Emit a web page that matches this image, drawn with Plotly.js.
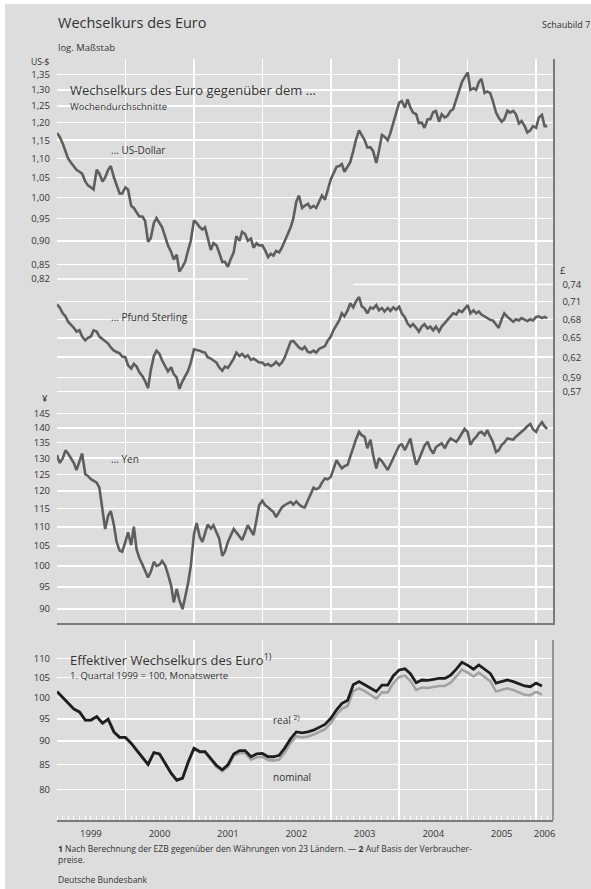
<!DOCTYPE html>
<html><head><meta charset="utf-8">
<script src="https://cdn.plot.ly/plotly-3.0.1.min.js"></script>
<style>html,body{margin:0;padding:0;background:#fff;} #chart{position:absolute;left:5px;top:4px;width:586px;height:885px;}</style>
</head><body><div id="chart"></div>
<script>
// ---- DATA (semi-monthly: 1st and 15th of each month, Jan 1999 - Mar 2006) ----
const usd1999 = [1.17,1.16, 1.14,1.12, 1.10,1.09, 1.08,1.07, 1.065,1.06, 1.04,1.03, 1.025,1.02, 1.07,1.06, 1.04,1.05, 1.07,1.08, 1.05,1.03, 1.01,1.01];
const usd2000 = [1.025,1.02, 0.98,0.975, 0.963,0.955, 0.955,0.945, 0.898,0.905, 0.94,0.951, 0.94,0.93, 0.908,0.89, 0.876,0.86, 0.87,0.835, 0.845,0.855, 0.88,0.90];
const usd2001 = [0.946,0.94, 0.93,0.925, 0.93,0.905, 0.88,0.895, 0.89,0.875, 0.855,0.855, 0.845,0.86, 0.875,0.91, 0.90,0.92, 0.915,0.90, 0.905,0.885, 0.895,0.89];
const usd2002 = [0.89,0.88, 0.865,0.872, 0.868,0.878, 0.875,0.885, 0.90,0.91, 0.93,0.95, 0.99,1.005, 0.975,0.98, 0.985,0.975, 0.98,0.975, 0.99,1.005, 0.995,1.02];
const usd2003 = [1.045,1.06, 1.078,1.08, 1.085,1.065, 1.08,1.09, 1.12,1.15, 1.178,1.165, 1.15,1.13, 1.13,1.12, 1.088,1.12, 1.165,1.16, 1.15,1.17, 1.20,1.225];
const usd2004 = [1.26,1.265, 1.245,1.27, 1.245,1.23, 1.225,1.199, 1.20,1.185, 1.21,1.21, 1.232,1.235, 1.203,1.225, 1.215,1.22, 1.235,1.24, 1.27,1.302, 1.325,1.34];
const usd2005 = [1.356,1.30, 1.305,1.30, 1.325,1.335, 1.29,1.295, 1.29,1.265, 1.23,1.215, 1.203,1.21, 1.236,1.23, 1.235,1.225, 1.198,1.205, 1.19,1.172, 1.178,1.19];
const usd2006 = [1.185,1.215, 1.223,1.19, 1.19];

const gbp1999 = [0.705,0.70, 0.69,0.685, 0.676,0.672, 0.666,0.66, 0.662,0.652, 0.646,0.65, 0.652,0.662, 0.66,0.652, 0.648,0.645, 0.641,0.635, 0.63,0.628, 0.626,0.621];
const gbp2000 = [0.62,0.608, 0.603,0.61, 0.606,0.598, 0.592,0.585, 0.575,0.60, 0.622,0.63, 0.625,0.615, 0.605,0.599, 0.605,0.595, 0.59,0.574, 0.585,0.592, 0.60,0.612];
const gbp2001 = [0.632,0.631, 0.63,0.628, 0.627,0.62, 0.618,0.615, 0.612,0.605, 0.60,0.606, 0.604,0.61, 0.618,0.627, 0.622,0.625, 0.62,0.623, 0.616,0.618, 0.614,0.612];
const gbp2002 = [0.612,0.608, 0.61,0.607, 0.609,0.613, 0.608,0.612, 0.62,0.63, 0.644,0.645, 0.64,0.635, 0.632,0.636, 0.628,0.627, 0.63,0.627, 0.633,0.635, 0.637,0.645];
const gbp2003 = [0.652,0.662, 0.672,0.678, 0.69,0.685, 0.695,0.707, 0.70,0.71, 0.718,0.702, 0.698,0.69, 0.70,0.698, 0.704,0.695, 0.699,0.693, 0.699,0.694, 0.70,0.696];
const gbp2004 = [0.701,0.69, 0.683,0.673, 0.668,0.672, 0.666,0.66, 0.668,0.672, 0.665,0.668, 0.662,0.668, 0.66,0.668, 0.674,0.679, 0.684,0.69, 0.688,0.695, 0.692,0.697];
const gbp2005 = [0.704,0.69, 0.695,0.69, 0.693,0.688, 0.685,0.682, 0.679,0.678, 0.672,0.666, 0.68,0.69, 0.684,0.681, 0.676,0.68, 0.678,0.682, 0.679,0.677, 0.68,0.678];
const gbp2006 = [0.684,0.685, 0.682,0.684, 0.682];

const jpy1999 = [131,128.5, 130,132.5, 131.5,130, 128.5,126.3, 129,131.5, 125,124.5, 123.5,123, 122.5,121, 115,109.4, 113,114.3, 110.4,106, 103.8,103.5];
const jpy2000 = [106,108.5, 105.2,110, 104,102, 100.3,99, 97.2,98.5, 101,100, 100.3,101.2, 100,98, 95.3,91.5, 94.5,92, 90,92.7, 96,100];
const jpy2001 = [108,111, 107.3,106, 108.5,110.6, 109.5,110.4, 108.5,107, 102.5,103.5, 106,107.5, 109.4,108.5, 107.4,106.5, 108.5,110.4, 109,107.8, 112,116];
const jpy2002 = [117.2,116, 115.3,114.5, 114,112.6, 114,115.3, 116,116.5, 116.9,116.1, 117,116.2, 115.5,115.3, 117.5,119, 121,120.5, 121,122.5, 123.7,123.5];
const jpy2003 = [124.2,126.5, 129.4,128, 126.8,127.5, 127.9,130.5, 133.7,136, 138.6,137.5, 136.9,133.2, 136,131, 126.8,130, 129,127.9, 126.3,128, 130,132];
const jpy2004 = [134,134.5, 132.6,134.5, 136.4,132, 128,129.5, 132,134, 135.3,133, 131.5,133.5, 134.3,134.8, 133.2,135, 136.4,135.8, 135.3,136.5, 138,139.6];
const jpy2005 = [138.5,134.3, 136,136.9, 138.2,138.6, 137.5,139.2, 137,135.3, 132,132.5, 134.3,135, 136.4,136.2, 136,137, 137.8,138.5, 139.6,140.5, 141.3,139.5];
const jpy2006 = [138.6,140.5, 141.9,140.5, 139.6];

// Effective exchange rate, monthly (Jan 1999 - Feb 2006)
const real1999 = [101.5,100,98.5,97.3,96.6,94.7,94.7,95.5,94,94.9,92,90.8];
const real2000 = [90.8,89.5,88,86.5,85,87.5,87.2,85.2,83.2,81.8,82.2,85.5];
const real2001 = [88.4,87.7,87.7,86.2,84.8,83.9,84.9,87.2,87.9,87.9,86.6,87.2];
const real2002 = [87.3,86.6,86.6,86.9,88.5,90.5,92,91.8,92,92.4,93,93.7];
const real2003 = [95.1,97.1,98.6,99.4,103.2,104,103.2,102.3,101.5,103.1,103.1,105.5];
const real2004 = [107,107.3,106,103.7,104.4,104.3,104.5,104.8,104.8,105.6,107.2,109];
const real2005 = [108.2,107.2,108.3,107.2,106.1,103.6,104,104.4,104,103.5,102.9,102.7];
const real2006 = [103.6,102.9];

const nom1999 = [101.4,99.9,98.4,97.2,96.5,94.6,94.6,95.4,93.9,94.8,91.9,90.7];
const nom2000 = [90.7,89.4,87.9,86.4,84.9,87.4,87.1,85.1,83.1,81.7,82.1,85.3];
const nom2001 = [88.2,87.5,87.5,86,84.5,83.6,84.5,86.8,87.4,87.4,86,86.5];
const nom2002 = [86.6,85.9,85.8,86,87.5,89.6,91,90.8,91,91.4,92,92.6];
const nom2003 = [94,96,97.3,98,101.6,102.3,101.6,100.6,99.8,101.3,101.3,103.6];
const nom2004 = [105.2,105.5,104.2,101.9,102.5,102.4,102.6,102.9,102.9,103.7,105.3,107.1];
const nom2005 = [106.3,105.3,106.3,105.2,104.1,101.5,101.9,102.3,101.9,101.4,100.7,100.6];
const nom2006 = [101.4,100.8];

// Tick labels
const usdTicks = [0.82,0.85,0.90,0.95,1.00,1.05,1.10,1.15,1.20,1.25,1.30,1.35];
const usdText  = ["0,82","0,85","0,90","0,95","1,00","1,05","1,10","1,15","1,20","1,25","1,30","1,35"];
const gbpTicks = [0.57,0.59,0.62,0.65,0.68,0.71,0.74];
const gbpText  = ["0,57","0,59","0,62","0,65","0,68","0,71","0,74"];
const jpyTicks = [90,95,100,105,110,115,120,125,130,135,140,145];
const eerTicks = [80,85,90,95,100,105,110];
const yearStarts = ["1999-01-01","2000-01-01","2001-01-01","2002-01-01","2003-01-01","2004-01-01","2005-01-01","2006-01-01"];
const yearLabelPos = ["1999-07-01","2000-07-01","2001-07-01","2002-07-01","2003-07-01","2004-07-01","2005-07-01","2006-02-15"];
const yearLabels = ["1999","2000","2001","2002","2003","2004","2005","2006"];

// ---- build series ----
const usd = [].concat(usd1999,usd2000,usd2001,usd2002,usd2003,usd2004,usd2005,usd2006);
const gbp = [].concat(gbp1999,gbp2000,gbp2001,gbp2002,gbp2003,gbp2004,gbp2005,gbp2006);
const jpy = [].concat(jpy1999,jpy2000,jpy2001,jpy2002,jpy2003,jpy2004,jpy2005,jpy2006);
const real = [].concat(real1999,real2000,real2001,real2002,real2003,real2004,real2005,real2006);
const nom = [].concat(nom1999,nom2000,nom2001,nom2002,nom2003,nom2004,nom2005,nom2006);
const pad = n => (n<10?'0':'')+n;
function semiDates(n){const o=[];let y=1999,m=1;while(o.length<n){o.push(y+'-'+pad(m)+'-01');if(o.length<n)o.push(y+'-'+pad(m)+'-15');m++;if(m>12){m=1;y++;}}return o;}
function monthDates(n){const o=[];let y=1999,m=1;while(o.length<n){o.push(y+'-'+pad(m)+'-01');m++;if(m>12){m=1;y++;}}return o;}
const semi = semiDates(usd.length);
const months = monthDates(real.length);

// ---- layout geometry (image pixels) ----
const FONT = '"Open Sans", "Noto Sans", sans-serif';
const TXT = '#333333';
const L=57, R=553, T=59, B=820, W=R-L, H=B-T;
const px = x => (x-L)/W, py = y => 1-(y-T)/H;
const XR = ['1999-01-01','2006-04-01'];
const topDom = [py(623), 1], botDom = [0, py(640)];

const lineGrey = '#5e5e5e';
const traces = [
  {x:semi, y:usd, xaxis:'x', yaxis:'y', mode:'lines', line:{color:lineGrey,width:2.6}, hoverinfo:'skip'},
  {x:semi, y:gbp, xaxis:'x', yaxis:'y2', mode:'lines', line:{color:lineGrey,width:2.6}, hoverinfo:'skip'},
  {x:semi, y:jpy, xaxis:'x', yaxis:'y3', mode:'lines', line:{color:lineGrey,width:2.6}, hoverinfo:'skip'},
  {x:months, y:nom, xaxis:'x2', yaxis:'y4', mode:'lines', line:{color:'#a2a2a2',width:2.6}, hoverinfo:'skip'},
  {x:months, y:real, xaxis:'x3', yaxis:'y4', mode:'lines', line:{color:'#1e1e1e',width:2.8}, hoverinfo:'skip'}
];

const tickFont = {family:FONT, size:9.5, color:TXT};
const yBase = {type:'log', showgrid:true, gridcolor:'#ffffff', gridwidth:1.5, zeroline:false, ticks:'', showline:false, tickfont:tickFont, ticklabelstandoff:6, fixedrange:true};
const xBase = {type:'date', range:XR, tickvals:yearStarts, showticklabels:false, ticks:'', showgrid:true, gridcolor:'#ffffff', gridwidth:1.5, zeroline:false, fixedrange:true};

function ann(text,x,y,size,extra){return Object.assign({text:text, xref:'paper', yref:'paper', x:px(x), y:py(y), xanchor:'left', yanchor:'middle', showarrow:false, font:{family:FONT,size:size,color:TXT}}, extra||{});}

const layout = {
  width:586, height:885,
  margin:{l:52, r:38, t:55, b:69},
  paper_bgcolor:'#dddddd', plot_bgcolor:'#dddddd',
  showlegend:false,
  xaxis: Object.assign({}, xBase, {domain:[0,1], anchor:'y', showline:true, linecolor:'#7a7a7a', linewidth:1.5}),
  yaxis: Object.assign({}, yBase, {domain:topDom, anchor:'x', range:[-0.4501,0.1466], tickvals:usdTicks, ticktext:usdText, showgrid:false,
          minor:{tickmode:'array', tickvals:usdTicks.slice(1), showgrid:true, gridcolor:'#ffffff', gridwidth:1.5, ticks:''}}),
  yaxis2: Object.assign({}, yBase, {overlaying:'y', side:'right', anchor:'x', range:[-0.4888,0.1079], tickvals:gbpTicks, ticktext:gbpText, showgrid:false,
          minor:{tickmode:'array', tickvals:gbpTicks.slice(0,-1), showgrid:true, gridcolor:'#ffffff', gridwidth:1.5, ticks:''},
          showline:true, linecolor:'#7a7a7a', linewidth:1.5}),
  yaxis3: Object.assign({}, yBase, {overlaying:'y', side:'left', anchor:'x', range:[1.93958,2.53629], tickvals:jpyTicks, ticktext:jpyTicks.map(String)}),
  xaxis2: Object.assign({}, xBase, {domain:[0,1], anchor:'y4', showline:true, linecolor:'#7a7a7a', linewidth:1.5,
          minor:{dtick:'M1', tick0:'1999-01-01', ticks:'inside', ticklen:4, tickcolor:'#ffffff', tickwidth:1, showgrid:false}}),
  xaxis3: {type:'date', range:XR, overlaying:'x2', anchor:'y4', side:'bottom', tickvals:yearLabelPos, ticktext:yearLabels, ticks:'', showgrid:false, showline:false, zeroline:false, tickfont:tickFont, ticklabelstandoff:6, fixedrange:true},
  yaxis4: Object.assign({}, yBase, {domain:botDom, anchor:'x2', range:[1.87061,2.06104], tickvals:eerTicks, ticktext:eerTicks.map(String)}),
  shapes: [
    {type:'line', xref:'x', yref:'y', x0:'1999-01-01', x1:'2001-10-15', y0:0.82, y1:0.82, line:{color:'#ffffff', width:1.5}, layer:'below'},
    {type:'line', xref:'x', yref:'y2', x0:'2003-05-01', x1:'2006-04-01', y0:0.74, y1:0.74, line:{color:'#ffffff', width:1.5}, layer:'below'},
    {type:'line', xref:'paper', yref:'y4 domain', x0:1, x1:1, y0:0, y1:1, line:{color:'#7a7a7a', width:1.5}}
  ],
  annotations: [
    ann('Wechselkurs des Euro', 56, 22, 14.5),
    ann('Schaubild 7', 540, 24, 9),
    ann('log. Maßstab', 56, 47, 9.5),
    ann('US-$', 29, 61, 8.5),
    ann('£', 558, 270, 9.5),
    ann('¥', 40, 398, 9.5),
    ann('Wechselkurs des Euro gegenüber dem ...', 68, 90, 13),
    ann('Wochendurchschnitte', 68, 107, 9.5),
    ann('... US-Dollar', 109, 150, 10),
    ann('... Pfund Sterling', 109, 317, 10),
    ann('... Yen', 109, 459, 10),
    ann('Effektiver Wechselkurs des Euro<sup>1)</sup>', 68, 659, 13),
    ann('1. Quartal 1999 = 100, Monatswerte', 68, 675, 9.5),
    ann('real <sup>2)</sup>', 271, 720, 10),
    ann('nominal', 271, 777, 10),
    ann('<b>1</b> Nach Berechnung der EZB gegenüber den Währungen von 23 Ländern. — <b>2</b> Auf Basis der Verbraucher-', 56, 848, 8.5),
    ann('preise.', 56, 859, 8.5),
    ann('Deutsche Bundesbank', 56, 879, 8.5)
  ]
};

Plotly.newPlot('chart', traces, layout, {staticPlot:true, displayModeBar:false});
</script></body></html>
